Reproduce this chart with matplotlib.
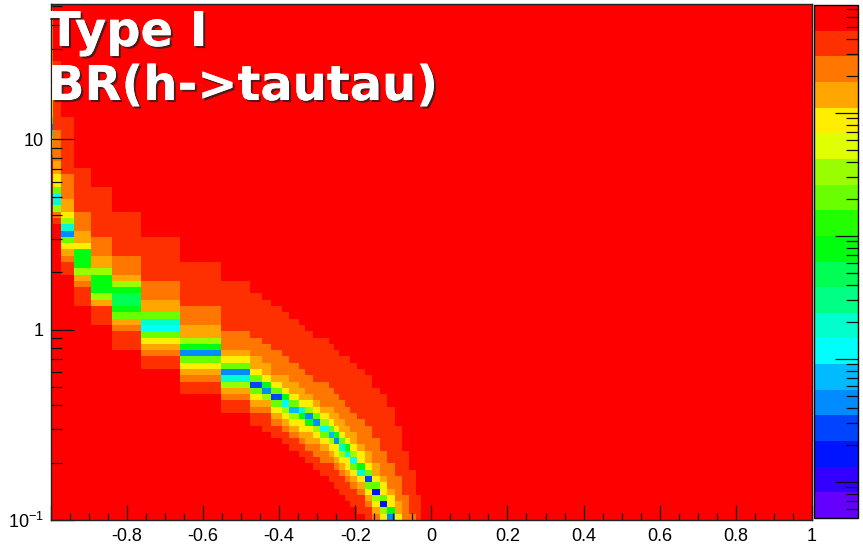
import colorsys

import matplotlib
matplotlib.use("Agg")
import matplotlib.pyplot as plt
import matplotlib.patheffects as pe
from matplotlib.colors import ListedColormap, LogNorm
from matplotlib.ticker import FixedLocator, LogLocator, NullFormatter, MultipleLocator
import numpy as np

plt.rcParams["font.family"] = ["Liberation Sans", "DejaVu Sans"]
plt.rcParams["mathtext.fontset"] = "custom"
plt.rcParams["mathtext.rm"] = "Liberation Sans"
plt.rcParams["axes.unicode_minus"] = False

# cos(beta-alpha) column edges of the scan
x_edges = [-1.000, -0.995, -0.972, -0.939, -0.895, -0.838, -0.763, -0.661,
           -0.553, -0.477, -0.446, -0.420, -0.393, -0.375, -0.348, -0.332,
           -0.311, -0.293, -0.269, -0.256, -0.243, -0.227, -0.214, -0.195,
           -0.174, -0.156, -0.135, -0.116, -0.095, -0.076, -0.058, -0.040,
           -0.027, 1.000]

# tan(beta) where BR(h->tautau) dips to its minimum in each column
band_centre = [11.3, 4.9, 3.28, 2.34, 1.73, 1.42, 1.05, 0.766, 0.583, 0.514,
               0.486, 0.441, 0.415, 0.384, 0.366, 0.344, 0.326, 0.299, 0.282,
               0.265, 0.244, 0.228, 0.203, 0.183, 0.164, 0.142, 0.122, 0.106,
               0.088, 0.074, 0.061, 0.050, 0.0001]

# lowest colour level reached at the dip of each column
band_floor = [0, 6, 2, 10, 10, 9, 6, 3, 1, 3, 3, 3, 6, 5, 1, 3, 4, 6, 5,
              2, 7, 5, 6, 5, 3, 2, 2, 1, 0, 0, 0, 0, 0]

# half width (decades of tan(beta)) of the green/blue core of the dip
core_half = [0.06, 0.063, 0.058, 0.063, 0.07, 0.10, 0.074, 0.063, 0.058,
             0.05, 0.048, 0.046, 0.045, 0.044, 0.043, 0.043, 0.042, 0.042,
             0.042, 0.042, 0.042, 0.042, 0.042, 0.042, 0.042, 0.042, 0.042,
             0.042, 0.042, 0.042, 0.042, 0.042, 0.042]

# tan(beta) below / above the dip where the BR is back to its full value
halo_low = [7.4, 3.57, 1.9, 1.32, 1.1, 0.80, 0.616, 0.455, 0.357, 0.316,
            0.298, 0.273, 0.248, 0.228, 0.207, 0.192, 0.179, 0.166, 0.157,
            0.149, 0.139, 0.127, 0.117, 0.109, 0.097, 0.084, 0.072, 0.063,
            0.052, 0.044, 0.036, 0.030, 0.00005]
halo_high = [200.0, 25.0, 12.9, 7.24, 5.46, 4.2, 3.16, 2.34, 1.77, 1.53,
             1.42, 1.31, 1.21, 1.13, 1.05, 0.977, 0.919, 0.886, 0.844,
             0.785, 0.721, 0.70, 0.65, 0.60, 0.56, 0.51, 0.46, 0.38,
             0.31, 0.24, 0.19, 0.14, 0.001]

# colour level inside the core, vs. distance in units of core_half
core_v = [0.12, 0.25, 0.4, 0.6, 0.8, 1.0]
core_level = [1, 4, 7, 10, 12, 13, 19]
# colour level in the halo, vs. fractional distance to halo_high / halo_low
upper_u = [0.17, 0.28, 0.5, 1.0]
upper_level = [15, 16, 17, 18, 19]
lower_u = [0.35, 0.5, 0.65, 1.0]
lower_level = [15, 16, 17, 18, 19]

z_min, z_max = 5.07e-6, 0.0752
n_levels = 20
y_min, y_max = 0.1, 51.5

# fine log binning in tan(beta)
y_edges = np.logspace(np.log10(y_min), np.log10(y_max), 83)
y_mid = np.sqrt(y_edges[:-1] * y_edges[1:])

lz0, lz1 = np.log10(z_min), np.log10(z_max)
dz = (lz1 - lz0) / n_levels

br = np.zeros((len(y_mid), len(band_centre)))
for j in range(len(band_centre)):
    lc = np.log10(band_centre[j])
    w_lo = lc - np.log10(halo_low[j])
    w_hi = np.log10(halo_high[j]) - lc
    d = np.log10(y_mid) - lc
    halo = np.where(
        d >= 0,
        np.array(upper_level)[np.searchsorted(upper_u, d / w_hi, side="right")],
        np.array(lower_level)[np.searchsorted(lower_u, -d / w_lo, side="right")],
    )
    core = np.array(core_level)[np.searchsorted(core_v, np.abs(d) / core_half[j],
                                                side="right")]
    lvl = np.maximum(np.minimum(core, halo), band_floor[j])
    br[:, j] = 10 ** (lz0 + (lvl + 0.5) * dz)

# ROOT "pretty" palette, 20 contours
hues = [280 - (int((k + 0.99) * 2.5) + 1) * 5.6 for k in range(n_levels)]
colors = [colorsys.hls_to_rgb(h / 360.0, 0.5, 1.0) for h in hues]
cmap = ListedColormap(colors)
norm = LogNorm(vmin=z_min, vmax=z_max)

fig = plt.figure(figsize=(8.63, 5.44), dpi=100)
ax = fig.add_axes([0.0587, 0.0441, 0.9409 - 0.0587, 0.9926 - 0.0441])
cax = fig.add_axes([0.9432, 0.0478, 0.9942 - 0.9432, 0.9908 - 0.0478])

mesh = ax.pcolormesh(x_edges, y_edges, br, cmap=cmap, norm=norm,
                     shading="flat", edgecolors="none", antialiased=False)

ax.set_xlim(-1, 1)
ax.set_yscale("log")
ax.set_ylim(y_min, y_max)

ax.xaxis.set_major_locator(FixedLocator(np.round(np.arange(-1.0, 1.01, 0.2), 2)))
ax.set_xticklabels(["", "-0.8", "-0.6", "-0.4", "-0.2", "0",
                    "0.2", "0.4", "0.6", "0.8", "1"])
ax.xaxis.set_minor_locator(MultipleLocator(0.05))

ax.yaxis.set_major_locator(FixedLocator([0.1, 1, 10]))
ax.set_yticklabels([r"$\mathregular{10^{-1}}$", "1", "10"])
ax.yaxis.set_minor_locator(LogLocator(base=10, subs=np.arange(2, 10)))
ax.yaxis.set_minor_formatter(NullFormatter())

ax.tick_params(which="both", direction="in", top=False, right=False,
               labelsize=13, width=0.9, color="#111111")
ax.tick_params(axis="x", which="major", length=10.8, pad=6)
ax.tick_params(axis="x", which="minor", length=5)
ax.tick_params(axis="y", which="major", length=16.5, pad=5)
ax.tick_params(axis="y", which="minor", length=8)
for s in ax.spines.values():
    s.set_linewidth(1.0)
    s.set_color("#222222")

cb = fig.colorbar(mesh, cax=cax)
cb.outline.set_linewidth(1.0)
cax.yaxis.set_minor_locator(LogLocator(base=10, subs=np.arange(2, 10)))
cax.tick_params(which="both", direction="in", right=True, left=False,
                labelright=False, labelleft=False, width=0.9, color="#111111")
cax.tick_params(which="major", length=16.5)
cax.tick_params(which="minor", length=8.6)

shadow = [pe.withSimplePatchShadow(offset=(1.5, -1.5), shadow_rgbFace="#222222",
                                   alpha=0.8), pe.Normal()]
for txt, yb in [("Type I", 46), ("BR(h->tautau)", 100)]:
    fig.text(48 / 863, 1 - yb / 544, txt, color="white", fontsize=34.5,
             fontweight="bold", family="DejaVu Sans", va="baseline",
             ha="left", path_effects=shadow)

fig.savefig("out.png", dpi=100)
